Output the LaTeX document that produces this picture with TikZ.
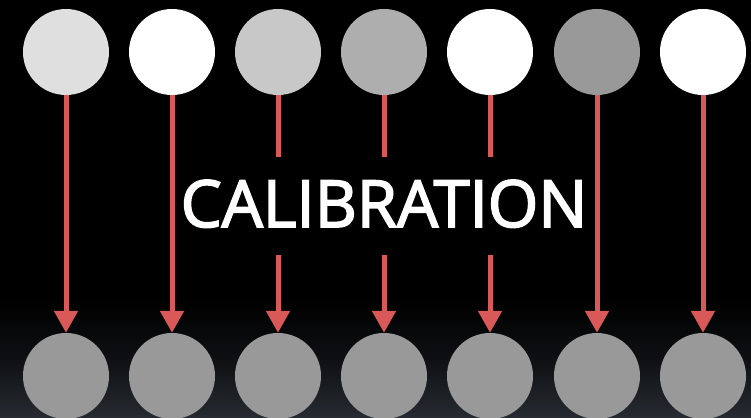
\documentclass[tikz,border=0pt]{standalone}
\usepackage{fontspec}
\setmainfont{Open Sans}
\newfontfamily\semib{Open Sans}[FakeBold=2.6]
\usetikzlibrary{arrows.meta}
\definecolor{arrred}{HTML}{D95858}
\definecolor{cA}{HTML}{E0DFDF}
\definecolor{cB}{HTML}{FFFFFF}
\definecolor{cC}{HTML}{C9C8C8}
\definecolor{cD}{HTML}{AEAEAE}
\definecolor{cF}{HTML}{999999}
\definecolor{bottomglow}{HTML}{262B31}
\definecolor{midglow}{HTML}{0E1013}
\begin{document}
\begin{tikzpicture}[x=1pt,y=-1pt,
  dot/.style={circle,inner sep=0pt,minimum size=86pt,draw=none},
  arr/.style={draw=arrred,line width=5pt,-{Triangle[width=23pt,length=22pt]}},
  seg/.style={draw=arrred,line width=5pt}]
\useasboundingbox (0,0) rectangle (751,417);
\fill[black] (0,0) rectangle (751,417);
\shade[top color=black,bottom color=bottomglow,middle color=midglow] (0,300) rectangle (751,417.5);
% top circles
\node[dot,fill=cA] (t1) at (66,52) {};
\node[dot,fill=cB] (t2) at (172,52) {};
\node[dot,fill=cC] (t3) at (278,52) {};
\node[dot,fill=cD] (t4) at (384,52) {};
\node[dot,fill=cB] (t5) at (490,52) {};
\node[dot,fill=cF] (t6) at (597,52) {};
\node[dot,fill=cB] (t7) at (703,52) {};
% bottom circles
\foreach \i/\x in {1/66,2/172,3/278,4/384,5/490,6/597,7/703}
  \node[dot,fill=cF] (b\i) at (\x,376) {};
% label
\node[text=white,inner sep=0pt,anchor=base,font=\semib\fontsize{65}{65}\selectfont] (lbl) at (384,227) {CALIBRATION};
% gap coordinates
\foreach \i/\x in {3/278,4/384,5/490}{
  \coordinate (g\i a) at (\x,157);
  \coordinate (g\i b) at (\x,255);
}
% arrows
\foreach \i in {1,2,6,7}
  \draw[arr] (t\i) -- (b\i);
\foreach \i in {3,4,5}{
  \draw[seg] (t\i) -- (g\i a);
  \draw[arr] (g\i b) -- (b\i);
}
\end{tikzpicture}
\end{document}
